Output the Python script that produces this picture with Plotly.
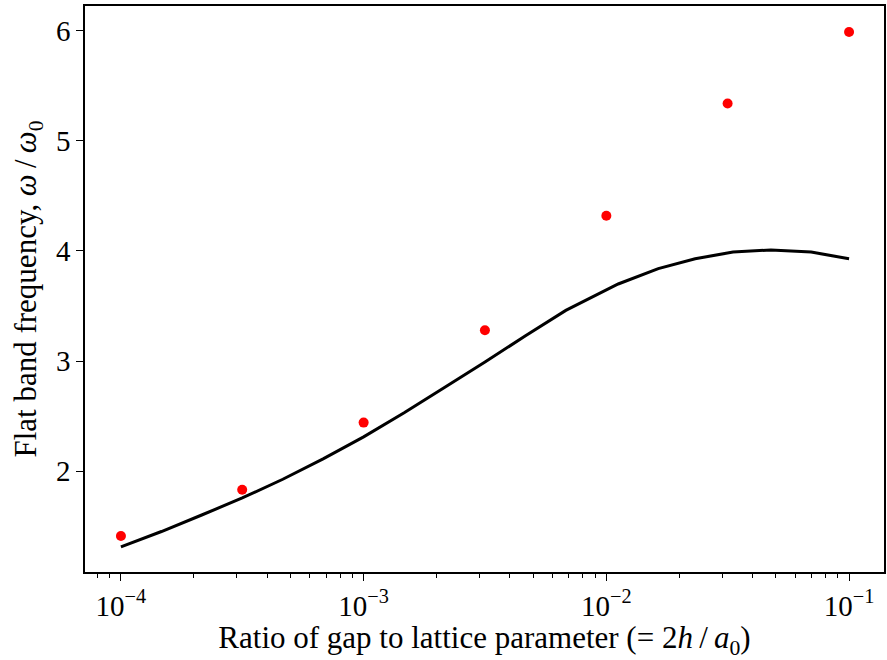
import numpy as np
import plotly.graph_objects as go

# Simulated flat-band frequency (red points)
sim_gap_ratio = [1e-4, 3.16e-4, 1e-3, 3.16e-3, 1e-2, 3.16e-2, 1e-1]
sim_frequency = [1.41, 1.83, 2.44, 3.28, 4.32, 5.34, 5.99]

# Model curve (black line), x given as log10 of the gap ratio
model_log_gap = [-4.0, -3.833, -3.667, -3.5, -3.333, -3.167, -3.0, -2.833, -2.667,
                 -2.5, -2.333, -2.167, -1.951, -1.786, -1.634, -1.478, -1.322,
                 -1.156, -1.0]
model_frequency = [1.31, 1.45, 1.60, 1.755, 1.925, 2.11, 2.31, 2.53, 2.76,
                   2.99, 3.23, 3.46, 3.70, 3.84, 3.93, 3.99, 4.01,
                   3.99, 3.93]

x_tick_vals = [1e-4, 1e-3, 1e-2, 1e-1]
x_tick_text = ["10<sup>−4</sup>", "10<sup>−3</sup>", "10<sup>−2</sup>", "10<sup>−1</sup>"]
x_minor_vals = [m * 10.0 ** e for e in range(-5, 0) for m in range(2, 10)]
y_tick_vals = [2, 3, 4, 5, 6]

FONT = "Liberation Serif"
TICK_SIZE = 29
TITLE_SIZE = 31
THIN = "\u2009"

fig = go.Figure()
fig.add_trace(go.Scatter(
    x=[10 ** v for v in model_log_gap], y=model_frequency,
    mode="lines", line=dict(color="black", width=3),
    showlegend=False,
))
fig.add_trace(go.Scatter(
    x=sim_gap_ratio, y=sim_frequency,
    mode="markers", marker=dict(color="#ff0000", size=10),
    showlegend=False,
))

axis_common = dict(
    showline=True, linecolor="black", linewidth=1.6, mirror=True,
    showgrid=False, zeroline=False,
    ticks="outside", ticklen=7, tickwidth=1.3, tickcolor="black",
    tickfont=dict(family=FONT, size=TICK_SIZE, color="black"),
)

fig.update_xaxes(
    type="log",
    range=[-4.148, -0.856],
    tickvals=x_tick_vals, ticktext=x_tick_text,
    minor=dict(tickvals=x_minor_vals, ticks="outside", ticklen=4, tickwidth=1,
               tickcolor="black", showgrid=False),
    title=dict(text=f"Ratio of gap to lattice parameter (= 2<i>h</i>{THIN}/{THIN}<i>a</i><sub>0</sub>)",
               font=dict(family=FONT, size=TITLE_SIZE, color="black"), standoff=8),
    **axis_common,
)
fig.update_yaxes(
    range=[1.082, 6.227],
    tickvals=y_tick_vals,
    title=dict(text=f"Flat band frequency, <i>ω</i>{THIN}/{THIN}<i>ω</i><sub>0</sub>",
               font=dict(family=FONT, size=TITLE_SIZE, color="black"), standoff=10),
    **axis_common,
)

fig.update_layout(
    width=887, height=660,
    margin=dict(l=85, r=1, t=6, b=88),
    plot_bgcolor="white", paper_bgcolor="white",
)

fig.write_html("out.html")
